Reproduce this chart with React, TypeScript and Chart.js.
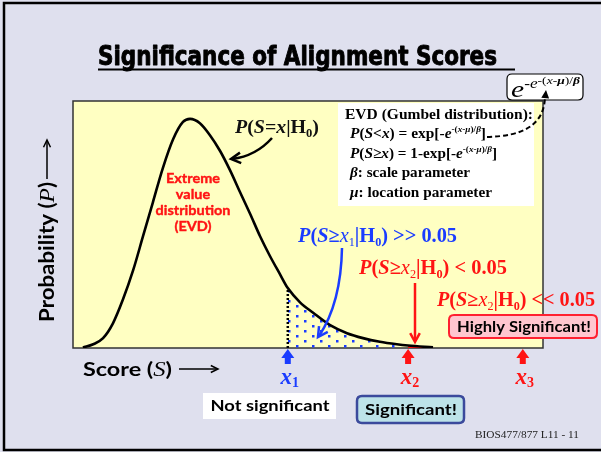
import React, { useEffect, useRef } from 'react';
import { Chart, registerables } from 'chart.js';

Chart.register(...registerables);

// ---- data ----
const scoreX = [2.1, 4.3, 6.4, 8.5, 10.6, 12.8, 14.9, 17.0, 19.1, 21.3, 23.4, 24.9, 27.0, 29.1, 31.3, 33.4, 35.5, 37.7, 39.8, 41.9, 44.0, 45.7, 48.3, 51.1, 54.7, 58.3, 61.7, 65.3, 68.9, 71.3, 76.6];
const densityY = [0.001, 0.006, 0.016, 0.040, 0.078, 0.126, 0.181, 0.236, 0.291, 0.338, 0.366, 0.371, 0.364, 0.345, 0.319, 0.288, 0.253, 0.217, 0.181, 0.149, 0.120, 0.097, 0.074, 0.057, 0.037, 0.024, 0.016, 0.010, 0.006, 0.004, 0.001];
const thresholdScores = [45.7, 71.3, 95.7];
const thresholdSubs = ['1', '2', '3'];
const xRange = [0, 100];
const yRange = [0, 0.4];

const SERIF = '"Liberation Serif", "Times New Roman", "DejaVu Serif", serif';
const SANS = 'Lato, "Noto Sans", "DejaVu Sans", sans-serif';
const NARROW = '"Liberation Sans Narrow", "DejaVu Sans Condensed", "Liberation Sans", sans-serif';
const BLUE = '#1a3cff';
const RED = '#ff1414';

type Run = { t: string; f: string; dy?: number; c?: string };

function drawRuns(ctx: CanvasRenderingContext2D, runs: Run[], x: number, y: number, color: string, opts: { align?: 'left' | 'center' | 'right'; width?: number; sx?: number; stroke?: number } = {}) {
  ctx.save();
  let total = 0;
  for (const r of runs) { ctx.font = r.f; total += ctx.measureText(r.t).width; }
  const sx = opts.width ? opts.width / total : (opts.sx || 1);
  const w = total * sx;
  const align = opts.align || 'left';
  const x0 = align === 'left' ? x : align === 'center' ? x - w / 2 : x - w;
  ctx.translate(x0, y);
  ctx.scale(sx, 1);
  ctx.textBaseline = 'alphabetic';
  ctx.textAlign = 'left';
  let cx = 0;
  for (const r of runs) {
    ctx.font = r.f;
    ctx.fillStyle = r.c || color;
    ctx.fillText(r.t, cx, r.dy || 0);
    if (opts.stroke) {
      ctx.strokeStyle = r.c || color;
      ctx.lineWidth = opts.stroke;
      ctx.lineJoin = 'round';
      ctx.strokeText(r.t, cx, r.dy || 0);
    }
    cx += ctx.measureText(r.t).width;
  }
  ctx.restore();
}

function rrect(ctx: CanvasRenderingContext2D, x: number, y: number, w: number, h: number, r: number) {
  ctx.beginPath();
  ctx.moveTo(x + r, y);
  ctx.lineTo(x + w - r, y);
  ctx.quadraticCurveTo(x + w, y, x + w, y + r);
  ctx.lineTo(x + w, y + h - r);
  ctx.quadraticCurveTo(x + w, y + h, x + w - r, y + h);
  ctx.lineTo(x + r, y + h);
  ctx.quadraticCurveTo(x, y + h, x, y + h - r);
  ctx.lineTo(x, y + r);
  ctx.quadraticCurveTo(x, y, x + r, y);
  ctx.closePath();
}

function head(ctx: CanvasRenderingContext2D, tx: number, ty: number, ang: number, len: number, spread: number, filled: boolean) {
  const a1 = ang + Math.PI - spread;
  const a2 = ang + Math.PI + spread;
  ctx.beginPath();
  ctx.moveTo(tx + len * Math.cos(a1), ty + len * Math.sin(a1));
  ctx.lineTo(tx, ty);
  ctx.lineTo(tx + len * Math.cos(a2), ty + len * Math.sin(a2));
  if (filled) { ctx.closePath(); ctx.fill(); } else { ctx.stroke(); }
}

function pRuns(size: number, sub: string, tail: string, rel: string): Run[] {
  const b = `bold ${size}px ${SERIF}`;
  const bi = `italic bold ${size}px ${SERIF}`;
  const s = `bold ${Math.round(size * 0.62)}px ${SERIF}`;
  return [
    { t: 'P', f: bi }, { t: '(', f: b }, { t: 'S', f: bi }, { t: rel, f: b }, { t: 'x', f: `italic ${size}px ${SERIF}` },
    { t: sub, f: `${Math.round(size * 0.62)}px ${SERIF}`, dy: 4 }, { t: '|H', f: b }, { t: '0', f: s, dy: 4 }, { t: ')', f: b }, { t: tail, f: b },
  ];
}

function expRuns(prefix: string): Run[] {
  const b = `bold 15px ${SERIF}`;
  const bi = `italic bold 15px ${SERIF}`;
  const sb = `bold 9px ${SERIF}`;
  const sbi = `italic bold 9px ${SERIF}`;
  return [
    { t: 'P', f: bi }, { t: '(', f: b }, { t: 'S', f: bi }, { t: prefix.charAt(0), f: b }, { t: 'x', f: bi },
    { t: prefix.slice(1), f: b }, { t: 'e', f: bi }, { t: '-(', f: sb, dy: -6 }, { t: 'x', f: sbi, dy: -6 }, { t: '-', f: sb, dy: -6 },
    { t: 'μ', f: sbi, dy: -6 }, { t: ')/', f: sb, dy: -6 }, { t: 'β', f: sbi, dy: -6 }, { t: ']', f: b },
  ];
}

const slidePlugin = {
  id: 'slide',
  beforeDraw(chart: any) {
    const { ctx, chartArea: a, width, height } = chart;
    ctx.save();
    ctx.fillStyle = '#dfe0ee';
    ctx.fillRect(0, 0, width, height);
    ctx.strokeStyle = '#000';
    ctx.lineWidth = 2.5;
    ctx.strokeRect(4, 3, width + 40, 447);
    ctx.fillStyle = '#ffffc2';
    ctx.fillRect(a.left, a.top, a.right - a.left, a.bottom - a.top);
    ctx.strokeStyle = '#333';
    ctx.lineWidth = 1.5;
    ctx.strokeRect(a.left, a.top, a.right - a.left, a.bottom - a.top);
    ctx.restore();
  },
  afterDraw(chart: any) {
    const { ctx } = chart;
    const xs = chart.scales.x;
    ctx.save();

    // title
    drawRuns(ctx, [{ t: 'Significance of Alignment Scores', f: `bold 27px ${NARROW}` }], 98, 65, '#000', { width: 399, stroke: 0.9 });
    ctx.fillStyle = '#000';
    ctx.fillRect(98, 68.5, 417, 2);

    // e^{-e^{-(x-mu)/beta}} box
    rrect(ctx, 507, 74, 76, 26, 5);
    ctx.fillStyle = '#fff';
    ctx.fill();
    ctx.strokeStyle = '#000';
    ctx.lineWidth = 1.2;
    ctx.stroke();
    drawRuns(ctx, [
      { t: 'e', f: `italic 24px ${SERIF}` },
      { t: '-', f: `14px ${SERIF}`, dy: -9 }, { t: 'e', f: `italic 14px ${SERIF}`, dy: -9 },
      { t: '-(', f: `11px ${SERIF}`, dy: -13 }, { t: 'x', f: `italic 11px ${SERIF}`, dy: -13 }, { t: '-', f: `11px ${SERIF}`, dy: -13 },
      { t: 'μ', f: `italic bold 11px ${SERIF}`, dy: -13 }, { t: ')/', f: `11px ${SERIF}`, dy: -13 }, { t: 'β', f: `italic bold 11px ${SERIF}`, dy: -13 },
    ], 511, 97, '#000', { width: 69 });

    // formula box
    ctx.fillStyle = '#fff';
    ctx.fillRect(338, 103, 196, 103);
    drawRuns(ctx, [{ t: 'EVD (Gumbel distribution):', f: `bold 15px ${SERIF}` }], 345, 119, '#000', { width: 188 });
    drawRuns(ctx, expRuns('<) = exp[-'), 350, 138, '#000', { width: 136 });
    drawRuns(ctx, expRuns('≥) = 1-exp[-'), 350, 158, '#000', { width: 147 });
    drawRuns(ctx, [{ t: 'β', f: `italic bold 15px ${SERIF}` }, { t: ': scale parameter', f: `bold 15px ${SERIF}` }], 350, 177, '#000', { width: 120 });
    drawRuns(ctx, [{ t: 'μ', f: `italic bold 15px ${SERIF}` }, { t: ': location parameter', f: `bold 15px ${SERIF}` }], 350, 197, '#000', { width: 142 });

    // dashed connector
    ctx.strokeStyle = '#000';
    ctx.lineWidth = 2;
    ctx.setLineDash([5, 3]);
    ctx.beginPath();
    ctx.moveTo(487, 137);
    ctx.bezierCurveTo(522, 136, 544, 126, 545, 97);
    ctx.stroke();
    ctx.setLineDash([]);
    ctx.fillStyle = '#000';
    head(ctx, 546, 90, -Math.PI / 2 + 0.1, 9, 0.45, true);

    // P(S=x|H0) label + arrow
    drawRuns(ctx, [
      { t: 'P', f: `italic bold 19px ${SERIF}` }, { t: '(', f: `bold 19px ${SERIF}` }, { t: 'S', f: `italic bold 19px ${SERIF}` },
      { t: '=', f: `bold 19px ${SERIF}` }, { t: 'x', f: `italic bold 19px ${SERIF}` }, { t: '|H', f: `bold 19px ${SERIF}` },
      { t: '0', f: `bold 12px ${SERIF}`, dy: 4 }, { t: ')', f: `bold 19px ${SERIF}` },
    ], 235, 133, '#111', { width: 84 });
    ctx.strokeStyle = '#000';
    ctx.lineWidth = 2.5;
    ctx.beginPath();
    ctx.moveTo(272, 138);
    ctx.quadraticCurveTo(256, 156, 232, 159);
    ctx.stroke();
    head(ctx, 231, 159, Math.atan2(159 - 156, 231 - 256), 11, 0.5, false);

    // EVD red label
    ctx.font = `bold 14px ${SANS}`;
    const evdSx = 75 / ctx.measureText('distribution').width;
    const evdLines = ['Extreme', 'value', 'distribution', '(EVD)'];
    evdLines.forEach((t, i) => drawRuns(ctx, [{ t, f: `bold 14px ${SANS}` }], 193, 183 + i * 16, RED, { align: 'center', sx: evdSx, stroke: 0.4 }));

    // blue p-value label + arrow
    drawRuns(ctx, pRuns(20, '1', ' >> 0.05', '≥'), 298, 242, BLUE, { width: 159 });
    ctx.strokeStyle = BLUE;
    ctx.lineWidth = 2.5;
    ctx.beginPath();
    ctx.moveTo(342, 248);
    ctx.quadraticCurveTo(341, 303, 319, 336);
    ctx.stroke();
    head(ctx, 318, 337, Math.atan2(337 - 303, 318 - 341), 11, 0.5, false);

    // red p-value labels + arrow
    drawRuns(ctx, pRuns(20, '2', ' < 0.05', '≥'), 359, 274, RED, { width: 148 });
    drawRuns(ctx, pRuns(20, '2', ' << 0.05', '≥'), 437, 306, RED, { width: 158 });
    ctx.strokeStyle = RED;
    ctx.lineWidth = 2.5;
    ctx.beginPath();
    ctx.moveTo(415, 283);
    ctx.lineTo(415, 341);
    ctx.stroke();
    head(ctx, 415, 342, Math.PI / 2, 10, 0.5, false);

    // Highly significant box
    rrect(ctx, 449, 315, 148, 23, 5);
    ctx.fillStyle = '#ffc6cf';
    ctx.fill();
    ctx.strokeStyle = '#ff2030';
    ctx.lineWidth = 2;
    ctx.stroke();
    drawRuns(ctx, [{ t: 'Highly Significant!', f: `bold 15px ${SANS}` }], 524, 332, '#000', { align: 'center', width: 134 });

    // axis labels
    drawRuns(ctx, [
      { t: 'Score (', f: `bold 19px ${SANS}` }, { t: 'S', f: `italic 20px ${SERIF}` }, { t: ')', f: `bold 19px ${SANS}` },
    ], 83, 376, '#000', { width: 89 });
    ctx.strokeStyle = '#000';
    ctx.fillStyle = '#000';
    ctx.lineWidth = 1.5;
    ctx.beginPath();
    ctx.moveTo(179, 369);
    ctx.lineTo(217, 369);
    ctx.stroke();
    head(ctx, 218, 369, 0, 8, 0.45, false);

    ctx.save();
    ctx.translate(54, 322);
    ctx.rotate(-Math.PI / 2);
    drawRuns(ctx, [
      { t: 'Probability (', f: `bold 20px ${SANS}` }, { t: 'P', f: `italic 21px ${SERIF}` }, { t: ')', f: `bold 20px ${SANS}` },
    ], 0, 0, '#000', { width: 140 });
    ctx.restore();
    ctx.strokeStyle = '#000';
    ctx.lineWidth = 1.5;
    ctx.beginPath();
    ctx.moveTo(47, 179);
    ctx.lineTo(47, 141);
    ctx.stroke();
    head(ctx, 47, 140, -Math.PI / 2, 8, 0.45, false);

    // threshold up-arrows and labels
    thresholdScores.forEach((s, i) => {
      const px = xs.getPixelForValue(s);
      const col = i === 0 ? BLUE : RED;
      ctx.fillStyle = col;
      const ty = 349;
      ctx.beginPath();
      ctx.moveTo(px, ty);
      ctx.lineTo(px + 6.5, ty + 9);
      ctx.lineTo(px + 3, ty + 9);
      ctx.lineTo(px + 3, ty + 15);
      ctx.lineTo(px - 3, ty + 15);
      ctx.lineTo(px - 3, ty + 9);
      ctx.lineTo(px - 6.5, ty + 9);
      ctx.closePath();
      ctx.fill();
      drawRuns(ctx, [
        { t: 'x', f: `italic bold 23px ${SERIF}` }, { t: thresholdSubs[i], f: `bold 14px ${SERIF}`, dy: 3 },
      ], px + 2, 384, col, { align: 'center' });
    });

    // significance boxes
    ctx.fillStyle = '#fff';
    ctx.fillRect(203, 393, 133, 26);
    drawRuns(ctx, [{ t: 'Not significant', f: `bold 16px ${SANS}` }], 270, 411, '#000', { align: 'center', width: 119 });

    rrect(ctx, 357, 396, 107, 27, 5);
    ctx.fillStyle = '#bde3e8';
    ctx.fill();
    ctx.strokeStyle = '#3b4a9c';
    ctx.lineWidth = 2.5;
    ctx.stroke();
    drawRuns(ctx, [{ t: 'Significant!', f: `bold 16px ${SANS}` }], 411, 415, '#000', { align: 'center', width: 92 });

    drawRuns(ctx, [{ t: 'BIOS477/877 L11 - 11', f: `11px ${SERIF}` }], 475, 438, '#222', { width: 104 });

    ctx.restore();
  },
};

export default function App() {
  const ref = useRef<HTMLCanvasElement>(null);
  useEffect(() => {
    const canvas = ref.current as HTMLCanvasElement;
    const pc = document.createElement('canvas');
    pc.width = 16;
    pc.height = 10;
    const pctx = pc.getContext('2d') as CanvasRenderingContext2D;
    pctx.fillStyle = BLUE;
    pctx.fillRect(0, 0, 2.5, 2.5);
    pctx.fillRect(8, 5, 2.5, 2.5);
    const pattern = (canvas.getContext('2d') as CanvasRenderingContext2D).createPattern(pc, 'repeat');

    const curve = scoreX.map((x, i) => ({ x, y: densityY[i] }));
    const x1 = thresholdScores[0];
    const x2 = thresholdScores[1];
    const shaded = curve.filter((p) => p.x >= x1 && p.x <= x2);
    const redTail = curve.filter((p) => p.x >= x2);
    const x1Top = (curve.find((p) => p.x === x1) || { y: 0 }).y;

    const chart = new Chart(canvas, {
      type: 'line',
      data: {
        datasets: [
          {
            label: 'P(S=x|H0)', data: curve, borderColor: '#000', borderWidth: 2.6, pointRadius: 0,
            cubicInterpolationMode: 'monotone', fill: false, order: 0,
          },
          {
            label: 'P(S≥x1|H0)', data: shaded, borderWidth: 0, borderColor: 'rgba(0,0,0,0)', pointRadius: 0,
            cubicInterpolationMode: 'monotone', fill: 'origin', backgroundColor: pattern as any, order: 3,
          },
          {
            label: 'P(S≥x2|H0)', data: redTail, borderWidth: 0, borderColor: 'rgba(0,0,0,0)', pointRadius: 0,
            cubicInterpolationMode: 'monotone', fill: 'origin', backgroundColor: RED, order: 2,
          },
          {
            label: 'x1', data: [{ x: x1, y: 0 }, { x: x1, y: x1Top }], borderColor: '#000', borderWidth: 2.5,
            borderDash: [2, 2], pointRadius: 0, fill: false, order: 1,
          },
        ],
      } as any,
      options: {
        animation: false,
        responsive: false,
        events: [],
        layout: { padding: { left: 73, right: 58, top: 101, bottom: 104 } },
        scales: {
          x: { type: 'linear', min: xRange[0], max: xRange[1], display: false },
          y: { type: 'linear', min: yRange[0], max: yRange[1], display: false },
        },
        plugins: { legend: { display: false }, tooltip: { enabled: false }, title: { display: false } },
      } as any,
      plugins: [slidePlugin as any],
    });
    return () => chart.destroy();
  }, []);
  return (
    <div style={{ position: 'absolute', left: 0, top: 0, width: 601, height: 452 }}>
      <canvas ref={ref} width={601} height={452} style={{ display: 'block', width: 601, height: 452 }} />
    </div>
  );
}
